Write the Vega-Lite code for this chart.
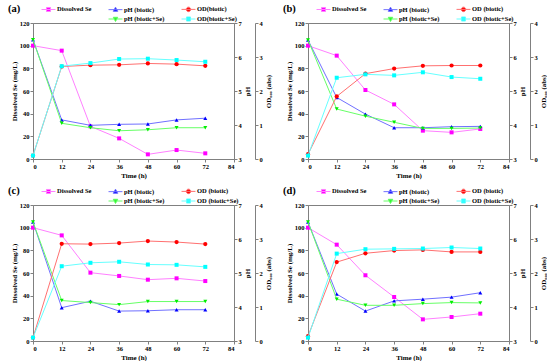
{
"$schema":"https://vega.github.io/schema/vega-lite/v6.json",
"padding":{"left":7,"top":3,"right":0,"bottom":0},
"background":"white",
"data":{"values":[
{"p":"a","s":"Se","t":0,"v":100},{"p":"a","s":"Se","t":12,"v":95.6},{"p":"a","s":"Se","t":24,"v":28.8},{"p":"a","s":"Se","t":36,"v":18.2},{"p":"a","s":"Se","t":48,"v":4.1},{"p":"a","s":"Se","t":60,"v":7.9},{"p":"a","s":"Se","t":72,"v":5.0},
{"p":"a","s":"pHb","t":0,"v":6.51},{"p":"a","s":"pHb","t":12,"v":4.15},{"p":"a","s":"pHb","t":24,"v":3.99},{"p":"a","s":"pHb","t":36,"v":4.02},{"p":"a","s":"pHb","t":48,"v":4.03},{"p":"a","s":"pHb","t":60,"v":4.15},{"p":"a","s":"pHb","t":72,"v":4.2},
{"p":"a","s":"pHs","t":0,"v":6.51},{"p":"a","s":"pHs","t":12,"v":4.05},{"p":"a","s":"pHs","t":24,"v":3.92},{"p":"a","s":"pHs","t":36,"v":3.83},{"p":"a","s":"pHs","t":48,"v":3.86},{"p":"a","s":"pHs","t":60,"v":3.92},{"p":"a","s":"pHs","t":72,"v":3.92},
{"p":"a","s":"ODb","t":0,"v":0.1},{"p":"a","s":"ODb","t":12,"v":2.72},{"p":"a","s":"ODb","t":24,"v":2.76},{"p":"a","s":"ODb","t":36,"v":2.77},{"p":"a","s":"ODb","t":48,"v":2.81},{"p":"a","s":"ODb","t":60,"v":2.79},{"p":"a","s":"ODb","t":72,"v":2.74},
{"p":"a","s":"ODs","t":0,"v":0.1},{"p":"a","s":"ODs","t":12,"v":2.73},{"p":"a","s":"ODs","t":24,"v":2.82},{"p":"a","s":"ODs","t":36,"v":2.94},{"p":"a","s":"ODs","t":48,"v":2.95},{"p":"a","s":"ODs","t":60,"v":2.91},{"p":"a","s":"ODs","t":72,"v":2.86},
{"p":"b","s":"Se","t":0,"v":100},{"p":"b","s":"Se","t":12,"v":91.2},{"p":"b","s":"Se","t":24,"v":60.9},{"p":"b","s":"Se","t":36,"v":48.2},{"p":"b","s":"Se","t":48,"v":25},{"p":"b","s":"Se","t":60,"v":23.5},{"p":"b","s":"Se","t":72,"v":26.5},
{"p":"b","s":"pHb","t":0,"v":6.5},{"p":"b","s":"pHb","t":12,"v":4.81},{"p":"b","s":"pHb","t":24,"v":4.32},{"p":"b","s":"pHb","t":36,"v":3.92},{"p":"b","s":"pHb","t":48,"v":3.92},{"p":"b","s":"pHb","t":60,"v":3.95},{"p":"b","s":"pHb","t":72,"v":3.96},
{"p":"b","s":"pHs","t":0,"v":6.5},{"p":"b","s":"pHs","t":12,"v":4.47},{"p":"b","s":"pHs","t":24,"v":4.26},{"p":"b","s":"pHs","t":36,"v":4.08},{"p":"b","s":"pHs","t":48,"v":3.9},{"p":"b","s":"pHs","t":60,"v":3.9},{"p":"b","s":"pHs","t":72,"v":3.91},
{"p":"b","s":"ODb","t":0,"v":0.14},{"p":"b","s":"ODb","t":12,"v":1.84},{"p":"b","s":"ODb","t":24,"v":2.51},{"p":"b","s":"ODb","t":36,"v":2.66},{"p":"b","s":"ODb","t":48,"v":2.74},{"p":"b","s":"ODb","t":60,"v":2.75},{"p":"b","s":"ODb","t":72,"v":2.75},
{"p":"b","s":"ODs","t":0,"v":0.1},{"p":"b","s":"ODs","t":12,"v":2.39},{"p":"b","s":"ODs","t":24,"v":2.49},{"p":"b","s":"ODs","t":36,"v":2.46},{"p":"b","s":"ODs","t":48,"v":2.55},{"p":"b","s":"ODs","t":60,"v":2.41},{"p":"b","s":"ODs","t":72,"v":2.36},
{"p":"c","s":"Se","t":0,"v":100},{"p":"c","s":"Se","t":12,"v":93.2},{"p":"c","s":"Se","t":24,"v":60.3},{"p":"c","s":"Se","t":36,"v":57.4},{"p":"c","s":"Se","t":48,"v":54.1},{"p":"c","s":"Se","t":60,"v":55.3},{"p":"c","s":"Se","t":72,"v":52.9},
{"p":"c","s":"pHb","t":0,"v":6.5},{"p":"c","s":"pHb","t":12,"v":3.98},{"p":"c","s":"pHb","t":24,"v":4.17},{"p":"c","s":"pHb","t":36,"v":3.88},{"p":"c","s":"pHb","t":48,"v":3.89},{"p":"c","s":"pHb","t":60,"v":3.92},{"p":"c","s":"pHb","t":72,"v":3.92},
{"p":"c","s":"pHs","t":0,"v":6.5},{"p":"c","s":"pHs","t":12,"v":4.19},{"p":"c","s":"pHs","t":24,"v":4.13},{"p":"c","s":"pHs","t":36,"v":4.07},{"p":"c","s":"pHs","t":48,"v":4.16},{"p":"c","s":"pHs","t":60,"v":4.16},{"p":"c","s":"pHs","t":72,"v":4.16},
{"p":"c","s":"ODb","t":0,"v":0.1},{"p":"c","s":"ODb","t":12,"v":2.86},{"p":"c","s":"ODb","t":24,"v":2.85},{"p":"c","s":"ODb","t":36,"v":2.88},{"p":"c","s":"ODb","t":48,"v":2.94},{"p":"c","s":"ODb","t":60,"v":2.91},{"p":"c","s":"ODb","t":72,"v":2.85},
{"p":"c","s":"ODs","t":0,"v":0.1},{"p":"c","s":"ODs","t":12,"v":2.2},{"p":"c","s":"ODs","t":24,"v":2.3},{"p":"c","s":"ODs","t":36,"v":2.33},{"p":"c","s":"ODs","t":48,"v":2.25},{"p":"c","s":"ODs","t":60,"v":2.24},{"p":"c","s":"ODs","t":72,"v":2.18},
{"p":"d","s":"Se","t":0,"v":100},{"p":"d","s":"Se","t":12,"v":85},{"p":"d","s":"Se","t":24,"v":58},{"p":"d","s":"Se","t":36,"v":38.8},{"p":"d","s":"Se","t":48,"v":19.1},{"p":"d","s":"Se","t":60,"v":21.2},{"p":"d","s":"Se","t":72,"v":24.1},
{"p":"d","s":"pHb","t":0,"v":6.5},{"p":"d","s":"pHb","t":12,"v":4.38},{"p":"d","s":"pHb","t":24,"v":3.88},{"p":"d","s":"pHb","t":36,"v":4.18},{"p":"d","s":"pHb","t":48,"v":4.23},{"p":"d","s":"pHb","t":60,"v":4.29},{"p":"d","s":"pHb","t":72,"v":4.42},
{"p":"d","s":"pHs","t":0,"v":6.5},{"p":"d","s":"pHs","t":12,"v":4.23},{"p":"d","s":"pHs","t":24,"v":4.05},{"p":"d","s":"pHs","t":36,"v":4.05},{"p":"d","s":"pHs","t":48,"v":4.1},{"p":"d","s":"pHs","t":60,"v":4.13},{"p":"d","s":"pHs","t":72,"v":4.12},
{"p":"d","s":"ODb","t":0,"v":0.14},{"p":"d","s":"ODb","t":12,"v":2.32},{"p":"d","s":"ODb","t":24,"v":2.58},{"p":"d","s":"ODb","t":36,"v":2.66},{"p":"d","s":"ODb","t":48,"v":2.68},{"p":"d","s":"ODb","t":60,"v":2.62},{"p":"d","s":"ODb","t":72,"v":2.62},
{"p":"d","s":"ODs","t":0,"v":0.1},{"p":"d","s":"ODs","t":12,"v":2.57},{"p":"d","s":"ODs","t":24,"v":2.7},{"p":"d","s":"ODs","t":36,"v":2.71},{"p":"d","s":"ODs","t":48,"v":2.72},{"p":"d","s":"ODs","t":60,"v":2.75},{"p":"d","s":"ODs","t":72,"v":2.72}
]},
"columns":2,
"spacing":{"row":46,"column":74},
"bounds":"flush",
"concat":[
{"title":{"text":"(a)"},"width":201,"height":136,"transform":[{"filter":"datum.p==='a'"}],
 "layer":[
  {"transform":[{"filter":"datum.s==='Se'"}],
   "encoding":{"x":{"field":"t","type":"quantitative","scale":{"domain":[0,84]},"axis":{"values":[0,12,24,36,48,60,72,84],"title":"Time (h)"}},
     "y":{"field":"v","type":"quantitative","scale":{"domain":[0,120]},"axis":{"orient":"left","values":[0,20,40,60,80,100,120],"title":"Dissolved Se (mg/L)"}}},
   "layer":[{"mark":{"type":"line","color":"#ff80ff","strokeWidth":1},"encoding":{}},{"mark":{"type":"point","shape":"square","filled":true,"color":"#ff00ff","size":16,"opacity":1}}]},
  {"encoding":{"x":{"field":"t","type":"quantitative","scale":{"domain":[0,84]},"axis":{"values":[0,12,24,36,48,60,72,84],"title":"Time (h)"}},
     "y":{"field":"v","type":"quantitative","scale":{"domain":[3,7]},"axis":{"orient":"right","values":[3,4,5,6,7],"title":"pH","titleAngle":270,"titleBaseline":"top"}}},
   "layer":[
    {"transform":[{"filter":"datum.s==='pHb'"}],"mark":{"type":"line","color":"#7070ff","strokeWidth":1},"encoding":{}},
    {"transform":[{"filter":"datum.s==='pHb'"}],"mark":{"type":"point","shape":"triangle-up","filled":true,"color":"#0000ff","size":16,"opacity":1}},
    {"transform":[{"filter":"datum.s==='pHs'"}],"mark":{"type":"line","color":"#66ff66","strokeWidth":1},"encoding":{}},
    {"transform":[{"filter":"datum.s==='pHs'"}],"mark":{"type":"point","shape":"triangle-down","filled":true,"color":"#00ee00","size":16,"opacity":1}}]},
  {"encoding":{"x":{"field":"t","type":"quantitative","scale":{"domain":[0,84]},"axis":{"values":[0,12,24,36,48,60,72,84],"title":"Time (h)"}},
     "y":{"field":"v","type":"quantitative","scale":{"domain":[0,4]},"axis":{"orient":"right","offset":21,"values":[0,1,2,3,4],"title":"OD₆₀₀ (abs)","titleAngle":270,"titleBaseline":"top"}}},
   "layer":[
    {"transform":[{"filter":"datum.s==='ODb'"}],"mark":{"type":"line","color":"#ff7070","strokeWidth":1},"encoding":{}},
    {"transform":[{"filter":"datum.s==='ODb'"}],"mark":{"type":"point","shape":"circle","filled":true,"color":"#ff0000","size":18,"opacity":1}},
    {"transform":[{"filter":"datum.s==='ODs'"}],"mark":{"type":"line","color":"#66ffff","strokeWidth":1},"encoding":{}},
    {"transform":[{"filter":"datum.s==='ODs'"}],"mark":{"type":"point","shape":"square","filled":true,"color":"#00ffff","size":16,"opacity":1}}]},
  {"transform":[{"filter":"datum.t < 0"}],"mark":{"type":"point","filled":true,"opacity":1},
   "encoding":{
    "fill":{"field":"s","type":"nominal","scale":{"domain":["Dissolved Se","pH (biotic)","OD(biotic)"," ","pH (biotic+Se)","OD(biotic+Se)"],"range":["#ff00ff","#0000ff","#ff0000","transparent","#00ee00","#00ffff"]},"legend":{"orient":"none","legendX":10.5,"legendY":-19,"columns":3,"direction":"horizontal","title":null}},
    "stroke":{"field":"s","type":"nominal","scale":{"domain":["Dissolved Se","pH (biotic)","OD(biotic)"," ","pH (biotic+Se)","OD(biotic+Se)"],"range":["#ff80ff","#7070ff","#ff7070","transparent","#66ff66","#66ffff"]},"legend":{"orient":"none","legendX":10.5,"legendY":-19,"columns":3,"direction":"horizontal","title":null}},
    "shape":{"field":"s","type":"nominal","scale":{"domain":["Dissolved Se","pH (biotic)","OD(biotic)"," ","pH (biotic+Se)","OD(biotic+Se)"],"range":["M-1.55,0H1.55M-0.45,-0.45H0.45V0.45H-0.45Z","M-1.55,0H1.55M0,-0.55L0.5,0.38H-0.5Z","M-1.55,0H1.55M-0.5,0A0.5,0.5 0 1,0 0.5,0A0.5,0.5 0 1,0 -0.5,0Z","M0,0","M-1.55,0H1.55M0,0.55L0.5,-0.38H-0.5Z","M-1.55,0H1.55M-0.45,-0.45H0.45V0.45H-0.45Z"]},"legend":{"orient":"none","legendX":10.5,"legendY":-19,"columns":3,"direction":"horizontal","title":null}}}}
 ],
 "resolve":{"scale":{"y":"independent"}}},
{"title":{"text":"(b)"},"width":201,"height":136,"transform":[{"filter":"datum.p==='b'"}],
 "layer":[
  {"transform":[{"filter":"datum.s==='Se'"}],
   "encoding":{"x":{"field":"t","type":"quantitative","scale":{"domain":[0,84]},"axis":{"values":[0,12,24,36,48,60,72,84],"title":"Time (h)"}},
     "y":{"field":"v","type":"quantitative","scale":{"domain":[0,120]},"axis":{"orient":"left","values":[0,20,40,60,80,100,120],"title":"Dissolved Se (mg/L)"}}},
   "layer":[{"mark":{"type":"line","color":"#ff80ff","strokeWidth":1},"encoding":{}},{"mark":{"type":"point","shape":"square","filled":true,"color":"#ff00ff","size":16,"opacity":1}}]},
  {"encoding":{"x":{"field":"t","type":"quantitative","scale":{"domain":[0,84]},"axis":{"values":[0,12,24,36,48,60,72,84],"title":"Time (h)"}},
     "y":{"field":"v","type":"quantitative","scale":{"domain":[3,7]},"axis":{"orient":"right","values":[3,4,5,6,7],"title":"pH","titleAngle":270,"titleBaseline":"top"}}},
   "layer":[
    {"transform":[{"filter":"datum.s==='pHb'"}],"mark":{"type":"line","color":"#7070ff","strokeWidth":1},"encoding":{}},
    {"transform":[{"filter":"datum.s==='pHb'"}],"mark":{"type":"point","shape":"triangle-up","filled":true,"color":"#0000ff","size":16,"opacity":1}},
    {"transform":[{"filter":"datum.s==='pHs'"}],"mark":{"type":"line","color":"#66ff66","strokeWidth":1},"encoding":{}},
    {"transform":[{"filter":"datum.s==='pHs'"}],"mark":{"type":"point","shape":"triangle-down","filled":true,"color":"#00ee00","size":16,"opacity":1}}]},
  {"encoding":{"x":{"field":"t","type":"quantitative","scale":{"domain":[0,84]},"axis":{"values":[0,12,24,36,48,60,72,84],"title":"Time (h)"}},
     "y":{"field":"v","type":"quantitative","scale":{"domain":[0,4]},"axis":{"orient":"right","offset":21,"values":[0,1,2,3,4],"title":"OD₆₀₀ (abs)","titleAngle":270,"titleBaseline":"top"}}},
   "layer":[
    {"transform":[{"filter":"datum.s==='ODb'"}],"mark":{"type":"line","color":"#ff7070","strokeWidth":1},"encoding":{}},
    {"transform":[{"filter":"datum.s==='ODb'"}],"mark":{"type":"point","shape":"circle","filled":true,"color":"#ff0000","size":18,"opacity":1}},
    {"transform":[{"filter":"datum.s==='ODs'"}],"mark":{"type":"line","color":"#66ffff","strokeWidth":1},"encoding":{}},
    {"transform":[{"filter":"datum.s==='ODs'"}],"mark":{"type":"point","shape":"square","filled":true,"color":"#00ffff","size":16,"opacity":1}}]},
  {"transform":[{"filter":"datum.t < 0"}],"mark":{"type":"point","filled":true,"opacity":1},
   "encoding":{
    "fill":{"field":"s","type":"nominal","scale":{"domain":["Dissolved Se","pH (biotic)","OD (biotic)"," ","pH (biotic+Se)","OD (biotic+Se)"],"range":["#ff00ff","#0000ff","#ff0000","transparent","#00ee00","#00ffff"]},"legend":{"orient":"none","legendX":10.5,"legendY":-19,"columns":3,"direction":"horizontal","title":null}},
    "stroke":{"field":"s","type":"nominal","scale":{"domain":["Dissolved Se","pH (biotic)","OD (biotic)"," ","pH (biotic+Se)","OD (biotic+Se)"],"range":["#ff80ff","#7070ff","#ff7070","transparent","#66ff66","#66ffff"]},"legend":{"orient":"none","legendX":10.5,"legendY":-19,"columns":3,"direction":"horizontal","title":null}},
    "shape":{"field":"s","type":"nominal","scale":{"domain":["Dissolved Se","pH (biotic)","OD (biotic)"," ","pH (biotic+Se)","OD (biotic+Se)"],"range":["M-1.55,0H1.55M-0.45,-0.45H0.45V0.45H-0.45Z","M-1.55,0H1.55M0,-0.55L0.5,0.38H-0.5Z","M-1.55,0H1.55M-0.5,0A0.5,0.5 0 1,0 0.5,0A0.5,0.5 0 1,0 -0.5,0Z","M0,0","M-1.55,0H1.55M0,0.55L0.5,-0.38H-0.5Z","M-1.55,0H1.55M-0.45,-0.45H0.45V0.45H-0.45Z"]},"legend":{"orient":"none","legendX":10.5,"legendY":-19,"columns":3,"direction":"horizontal","title":null}}}}
 ],
 "resolve":{"scale":{"y":"independent"}}},
{"title":{"text":"(c)"},"width":201,"height":136,"transform":[{"filter":"datum.p==='c'"}],
 "layer":[
  {"transform":[{"filter":"datum.s==='Se'"}],
   "encoding":{"x":{"field":"t","type":"quantitative","scale":{"domain":[0,84]},"axis":{"values":[0,12,24,36,48,60,72,84],"title":"Time (h)"}},
     "y":{"field":"v","type":"quantitative","scale":{"domain":[0,120]},"axis":{"orient":"left","values":[0,20,40,60,80,100,120],"title":"Dissolved Se (mg/L)"}}},
   "layer":[{"mark":{"type":"line","color":"#ff80ff","strokeWidth":1},"encoding":{}},{"mark":{"type":"point","shape":"square","filled":true,"color":"#ff00ff","size":16,"opacity":1}}]},
  {"encoding":{"x":{"field":"t","type":"quantitative","scale":{"domain":[0,84]},"axis":{"values":[0,12,24,36,48,60,72,84],"title":"Time (h)"}},
     "y":{"field":"v","type":"quantitative","scale":{"domain":[3,7]},"axis":{"orient":"right","values":[3,4,5,6,7],"title":"pH","titleAngle":270,"titleBaseline":"top"}}},
   "layer":[
    {"transform":[{"filter":"datum.s==='pHb'"}],"mark":{"type":"line","color":"#7070ff","strokeWidth":1},"encoding":{}},
    {"transform":[{"filter":"datum.s==='pHb'"}],"mark":{"type":"point","shape":"triangle-up","filled":true,"color":"#0000ff","size":16,"opacity":1}},
    {"transform":[{"filter":"datum.s==='pHs'"}],"mark":{"type":"line","color":"#66ff66","strokeWidth":1},"encoding":{}},
    {"transform":[{"filter":"datum.s==='pHs'"}],"mark":{"type":"point","shape":"triangle-down","filled":true,"color":"#00ee00","size":16,"opacity":1}}]},
  {"encoding":{"x":{"field":"t","type":"quantitative","scale":{"domain":[0,84]},"axis":{"values":[0,12,24,36,48,60,72,84],"title":"Time (h)"}},
     "y":{"field":"v","type":"quantitative","scale":{"domain":[0,4]},"axis":{"orient":"right","offset":21,"values":[0,1,2,3,4],"title":"OD₆₀₀ (abs)","titleAngle":270,"titleBaseline":"top"}}},
   "layer":[
    {"transform":[{"filter":"datum.s==='ODb'"}],"mark":{"type":"line","color":"#ff7070","strokeWidth":1},"encoding":{}},
    {"transform":[{"filter":"datum.s==='ODb'"}],"mark":{"type":"point","shape":"circle","filled":true,"color":"#ff0000","size":18,"opacity":1}},
    {"transform":[{"filter":"datum.s==='ODs'"}],"mark":{"type":"line","color":"#66ffff","strokeWidth":1},"encoding":{}},
    {"transform":[{"filter":"datum.s==='ODs'"}],"mark":{"type":"point","shape":"square","filled":true,"color":"#00ffff","size":16,"opacity":1}}]},
  {"transform":[{"filter":"datum.t < 0"}],"mark":{"type":"point","filled":true,"opacity":1},
   "encoding":{
    "fill":{"field":"s","type":"nominal","scale":{"domain":["Dissolved Se","pH (biotic)","OD (biotic)"," ","pH (biotic+Se)","OD (biotic+Se)"],"range":["#ff00ff","#0000ff","#ff0000","transparent","#00ee00","#00ffff"]},"legend":{"orient":"none","legendX":10.5,"legendY":-19,"columns":3,"direction":"horizontal","title":null}},
    "stroke":{"field":"s","type":"nominal","scale":{"domain":["Dissolved Se","pH (biotic)","OD (biotic)"," ","pH (biotic+Se)","OD (biotic+Se)"],"range":["#ff80ff","#7070ff","#ff7070","transparent","#66ff66","#66ffff"]},"legend":{"orient":"none","legendX":10.5,"legendY":-19,"columns":3,"direction":"horizontal","title":null}},
    "shape":{"field":"s","type":"nominal","scale":{"domain":["Dissolved Se","pH (biotic)","OD (biotic)"," ","pH (biotic+Se)","OD (biotic+Se)"],"range":["M-1.55,0H1.55M-0.45,-0.45H0.45V0.45H-0.45Z","M-1.55,0H1.55M0,-0.55L0.5,0.38H-0.5Z","M-1.55,0H1.55M-0.5,0A0.5,0.5 0 1,0 0.5,0A0.5,0.5 0 1,0 -0.5,0Z","M0,0","M-1.55,0H1.55M0,0.55L0.5,-0.38H-0.5Z","M-1.55,0H1.55M-0.45,-0.45H0.45V0.45H-0.45Z"]},"legend":{"orient":"none","legendX":10.5,"legendY":-19,"columns":3,"direction":"horizontal","title":null}}}}
 ],
 "resolve":{"scale":{"y":"independent"}}},
{"title":{"text":"(d)"},"width":201,"height":136,"transform":[{"filter":"datum.p==='d'"}],
 "layer":[
  {"transform":[{"filter":"datum.s==='Se'"}],
   "encoding":{"x":{"field":"t","type":"quantitative","scale":{"domain":[0,84]},"axis":{"values":[0,12,24,36,48,60,72,84],"title":"Time (h)"}},
     "y":{"field":"v","type":"quantitative","scale":{"domain":[0,120]},"axis":{"orient":"left","values":[0,20,40,60,80,100,120],"title":"Dissolved Se (mg/L)"}}},
   "layer":[{"mark":{"type":"line","color":"#ff80ff","strokeWidth":1},"encoding":{}},{"mark":{"type":"point","shape":"square","filled":true,"color":"#ff00ff","size":16,"opacity":1}}]},
  {"encoding":{"x":{"field":"t","type":"quantitative","scale":{"domain":[0,84]},"axis":{"values":[0,12,24,36,48,60,72,84],"title":"Time (h)"}},
     "y":{"field":"v","type":"quantitative","scale":{"domain":[3,7]},"axis":{"orient":"right","values":[3,4,5,6,7],"title":"pH","titleAngle":270,"titleBaseline":"top"}}},
   "layer":[
    {"transform":[{"filter":"datum.s==='pHb'"}],"mark":{"type":"line","color":"#7070ff","strokeWidth":1},"encoding":{}},
    {"transform":[{"filter":"datum.s==='pHb'"}],"mark":{"type":"point","shape":"triangle-up","filled":true,"color":"#0000ff","size":16,"opacity":1}},
    {"transform":[{"filter":"datum.s==='pHs'"}],"mark":{"type":"line","color":"#66ff66","strokeWidth":1},"encoding":{}},
    {"transform":[{"filter":"datum.s==='pHs'"}],"mark":{"type":"point","shape":"triangle-down","filled":true,"color":"#00ee00","size":16,"opacity":1}}]},
  {"encoding":{"x":{"field":"t","type":"quantitative","scale":{"domain":[0,84]},"axis":{"values":[0,12,24,36,48,60,72,84],"title":"Time (h)"}},
     "y":{"field":"v","type":"quantitative","scale":{"domain":[0,4]},"axis":{"orient":"right","offset":21,"values":[0,1,2,3,4],"title":"OD₆₀₀ (abs)","titleAngle":270,"titleBaseline":"top"}}},
   "layer":[
    {"transform":[{"filter":"datum.s==='ODb'"}],"mark":{"type":"line","color":"#ff7070","strokeWidth":1},"encoding":{}},
    {"transform":[{"filter":"datum.s==='ODb'"}],"mark":{"type":"point","shape":"circle","filled":true,"color":"#ff0000","size":18,"opacity":1}},
    {"transform":[{"filter":"datum.s==='ODs'"}],"mark":{"type":"line","color":"#66ffff","strokeWidth":1},"encoding":{}},
    {"transform":[{"filter":"datum.s==='ODs'"}],"mark":{"type":"point","shape":"square","filled":true,"color":"#00ffff","size":16,"opacity":1}}]},
  {"transform":[{"filter":"datum.t < 0"}],"mark":{"type":"point","filled":true,"opacity":1},
   "encoding":{
    "fill":{"field":"s","type":"nominal","scale":{"domain":["Dissolved Se","pH (biotic)","OD (biotic)"," ","pH (biotic+Se)","OD (biotic+Se)"],"range":["#ff00ff","#0000ff","#ff0000","transparent","#00ee00","#00ffff"]},"legend":{"orient":"none","legendX":10.5,"legendY":-19,"columns":3,"direction":"horizontal","title":null}},
    "stroke":{"field":"s","type":"nominal","scale":{"domain":["Dissolved Se","pH (biotic)","OD (biotic)"," ","pH (biotic+Se)","OD (biotic+Se)"],"range":["#ff80ff","#7070ff","#ff7070","transparent","#66ff66","#66ffff"]},"legend":{"orient":"none","legendX":10.5,"legendY":-19,"columns":3,"direction":"horizontal","title":null}},
    "shape":{"field":"s","type":"nominal","scale":{"domain":["Dissolved Se","pH (biotic)","OD (biotic)"," ","pH (biotic+Se)","OD (biotic+Se)"],"range":["M-1.55,0H1.55M-0.45,-0.45H0.45V0.45H-0.45Z","M-1.55,0H1.55M0,-0.55L0.5,0.38H-0.5Z","M-1.55,0H1.55M-0.5,0A0.5,0.5 0 1,0 0.5,0A0.5,0.5 0 1,0 -0.5,0Z","M0,0","M-1.55,0H1.55M0,0.55L0.5,-0.38H-0.5Z","M-1.55,0H1.55M-0.45,-0.45H0.45V0.45H-0.45Z"]},"legend":{"orient":"none","legendX":10.5,"legendY":-19,"columns":3,"direction":"horizontal","title":null}}}}
 ],
 "resolve":{"scale":{"y":"independent"}}}
],
"resolve":{"scale":{"fill":"independent","stroke":"independent","shape":"independent"},"legend":{"fill":"independent","stroke":"independent","shape":"independent"}},
"config":{
 "font":"Liberation Serif",
 "view":{"stroke":"#808080","strokeWidth":1},
 "axis":{"grid":false,"domainColor":"#808080","tickColor":"#808080","labelColor":"#000000","titleColor":"#000000","labelFont":"Liberation Serif","titleFont":"Liberation Serif","labelFontWeight":"bold","titleFontWeight":"bold","labelFontSize":6.5,"titleFontSize":7,"tickSize":3,"labelPadding":1,"titlePadding":2},
 "legend":{"labelFont":"Liberation Serif","labelFontWeight":"bold","labelFontSize":6.5,"symbolSize":81,"symbolStrokeWidth":1,"columnPadding":15,"rowPadding":0,"labelOffset":3.5,"symbolLimit":0,"labelLimit":0},
 "title":{"font":"Liberation Serif","fontSize":10.5,"fontWeight":"bold","anchor":"start","frame":"group","dx":-25,"offset":-10,"color":"#000000"}
}
}
